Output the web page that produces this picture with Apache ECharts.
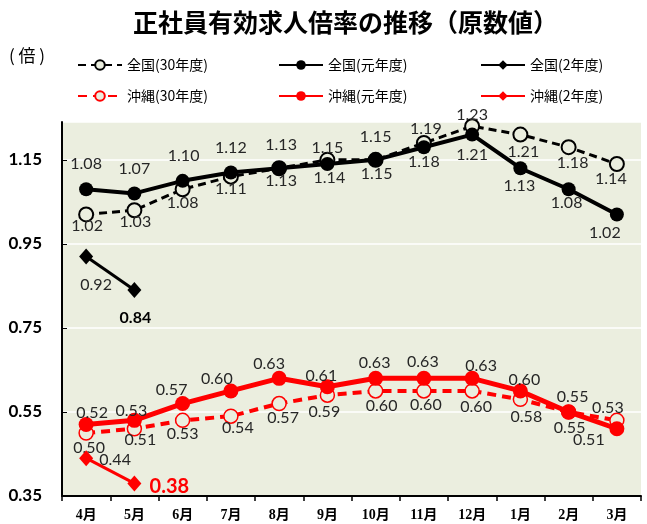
<!DOCTYPE html>
<html><head><meta charset="utf-8">
<script src="https://cdn.jsdelivr.net/npm/echarts@6/dist/echarts.min.js"></script>
<style>html,body{margin:0;padding:0;background:#fff}#c{width:647px;height:524px}</style>
</head><body><div id="c"></div>
<script>
// ---- data ----
const months = ['4月','5月','6月','7月','8月','9月','10月','11月','12月','1月','2月','3月'];
const zenkokuH30 = [1.02,1.03,1.08,1.11,1.13,1.15,1.15,1.19,1.23,1.21,1.18,1.14];
const zenkokuR1  = [1.08,1.07,1.10,1.12,1.13,1.14,1.15,1.18,1.21,1.13,1.08,1.02];
const zenkokuR2  = [0.92,0.84];
const okinawaH30 = [0.50,0.51,0.53,0.54,0.57,0.59,0.60,0.60,0.60,0.58,0.55,0.53];
const okinawaR1  = [0.52,0.53,0.57,0.60,0.63,0.61,0.63,0.63,0.63,0.60,0.55,0.51];
const okinawaR2  = [0.44,0.38];
const yTicks = {min:0.35, max:1.24, interval:0.2};

// ---- label placement (offset of label centre from the point) ----
const offZkH30 = [[1,11],[1,12],[0,14],[0,12],[2,13],[0,-12],[1,14],[2,-14],[0,-11],[3,17],[4,16],[-6,15]];
const offZkR1  = [[0,-25],[0,-25],[1,-25],[0,-25],[2,-23],[2,14],[0,-23],[0,15],[0,20],[-1,18],[-2,14],[-12,18]];
const offZkR2  = [[10,28],[1,28]];
const offOkH30 = [[3,15],[6,11],[0,13],[7,12],[4,14],[-3,17],[6,15],[2,14],[4,16],[6,17],[1,16],[-9,-13]];
const offOkR1  = [[6,-12],[-3,-10],[-11,-14],[-14,-12],[-10,-14],[-6,-11],[-1,-15],[-1,-16],[9,-12],[4,-11],[4,-15],[-28,11]];
const offOkR2  = [[29,2],[35,3]];

const BG = '#EBEEDF';
const LBL = {show:true, position:'inside', fontFamily:'Lato', fontSize:16, color:'#262626',
  formatter: p => Number(p.value).toFixed(2)};

function pts(vals, offs, extra) {
  return vals.map((v,i) => ({value:v, label:Object.assign({offset:offs[i]}, extra && extra[i] ? extra[i] : {})}));
}

const series = [
  {name:'全国(30年度)', type:'line', data:pts(zenkokuH30, offZkH30), z:2,
    symbol:'circle', symbolSize:14, lineStyle:{color:'#000', width:3, type:[8,5]},
    itemStyle:{color:BG, borderColor:'#000', borderWidth:2}, label:LBL},
  {name:'全国(元年度)', type:'line', data:pts(zenkokuR1, offZkR1), z:3,
    symbol:'circle', symbolSize:14, lineStyle:{color:'#000', width:4},
    itemStyle:{color:'#000'}, label:LBL},
  {name:'全国(2年度)', type:'line', data:pts(zenkokuR2, offZkR2, [null,{fontWeight:'bold', fontSize:16, color:'#000'}]), z:3,
    symbol:'diamond', symbolSize:[14,16], lineStyle:{color:'#000', width:3},
    itemStyle:{color:'#000'}, label:LBL},
  {name:'沖縄(30年度)', type:'line', data:pts(okinawaH30, offOkH30), z:2,
    symbol:'circle', symbolSize:14, lineStyle:{color:'#FF0000', width:4, type:[9,6]},
    itemStyle:{color:BG, borderColor:'#FF0000', borderWidth:1.5}, label:LBL},
  {name:'沖縄(元年度)', type:'line', data:pts(okinawaR1, offOkR1), z:3,
    symbol:'circle', symbolSize:15, lineStyle:{color:'#FF0000', width:5},
    itemStyle:{color:'#FF0000'}, label:LBL},
  {name:'沖縄(2年度)', type:'line', data:pts(okinawaR2, offOkR2, [null,{fontWeight:'bold', fontSize:20, color:'#FF0000'}]), z:3,
    symbol:'diamond', symbolSize:[14,16], lineStyle:{color:'#FF0000', width:3},
    itemStyle:{color:'#FF0000'}, label:LBL}
];

const legendPos = [[77,58],[278,58],[480,58],[77,89],[278,89],[480,89]];
const legends = series.map((s,i) => ({
  data:[s.name], left:legendPos[i][0], top:legendPos[i][1], itemWidth:44, itemHeight:12, padding:0,
  textStyle:{fontFamily:'Noto Sans CJK JP', fontSize:14, color:'#000'}, selectedMode:false
}));

const chart = echarts.init(document.getElementById('c'), null, {renderer:'canvas'});
chart.setOption({
  animation:false,
  backgroundColor:'#fff',
  title:{text:'正社員有効求人倍率の推移（原数値）', left:128, top:5,
    textStyle:{fontFamily:'Noto Sans CJK JP', fontWeight:'bold', fontSize:25, color:'#000'}},
  legend:legends,
  graphic:[{type:'text', left:9, top:47, style:{text:'( 倍 )', font:'17px "Noto Sans CJK JP"', fill:'#000'}}],
  grid:{left:62, right:6, top:122, bottom:28, show:true, backgroundColor:BG, borderWidth:0},
  xAxis:{type:'category', data:months, boundaryGap:true,
    axisLine:{lineStyle:{color:'#000', width:2}},
    axisTick:{show:true, interval:0, length:5, lineStyle:{color:'#000', width:1.5}},
    axisLabel:{interval:0, margin:12, fontFamily:'Liberation Serif, Noto Sans CJK JP', fontWeight:'bold', fontSize:14, color:'#000'}},
  yAxis:{type:'value', min:yTicks.min, max:yTicks.max, interval:yTicks.interval,
    axisLine:{show:true, lineStyle:{color:'#000', width:2}},
    axisTick:{show:true, inside:true, length:5, lineStyle:{color:'#000'}},
    splitLine:{show:true, lineStyle:{color:'#fff', width:1.5}},
    axisLabel:{showMaxLabel:false, margin:20, fontFamily:'Lato', fontWeight:'bold', fontSize:17, color:'#000',
      formatter: v => v.toFixed(2)}},
  series:series
});
</script></body></html>
